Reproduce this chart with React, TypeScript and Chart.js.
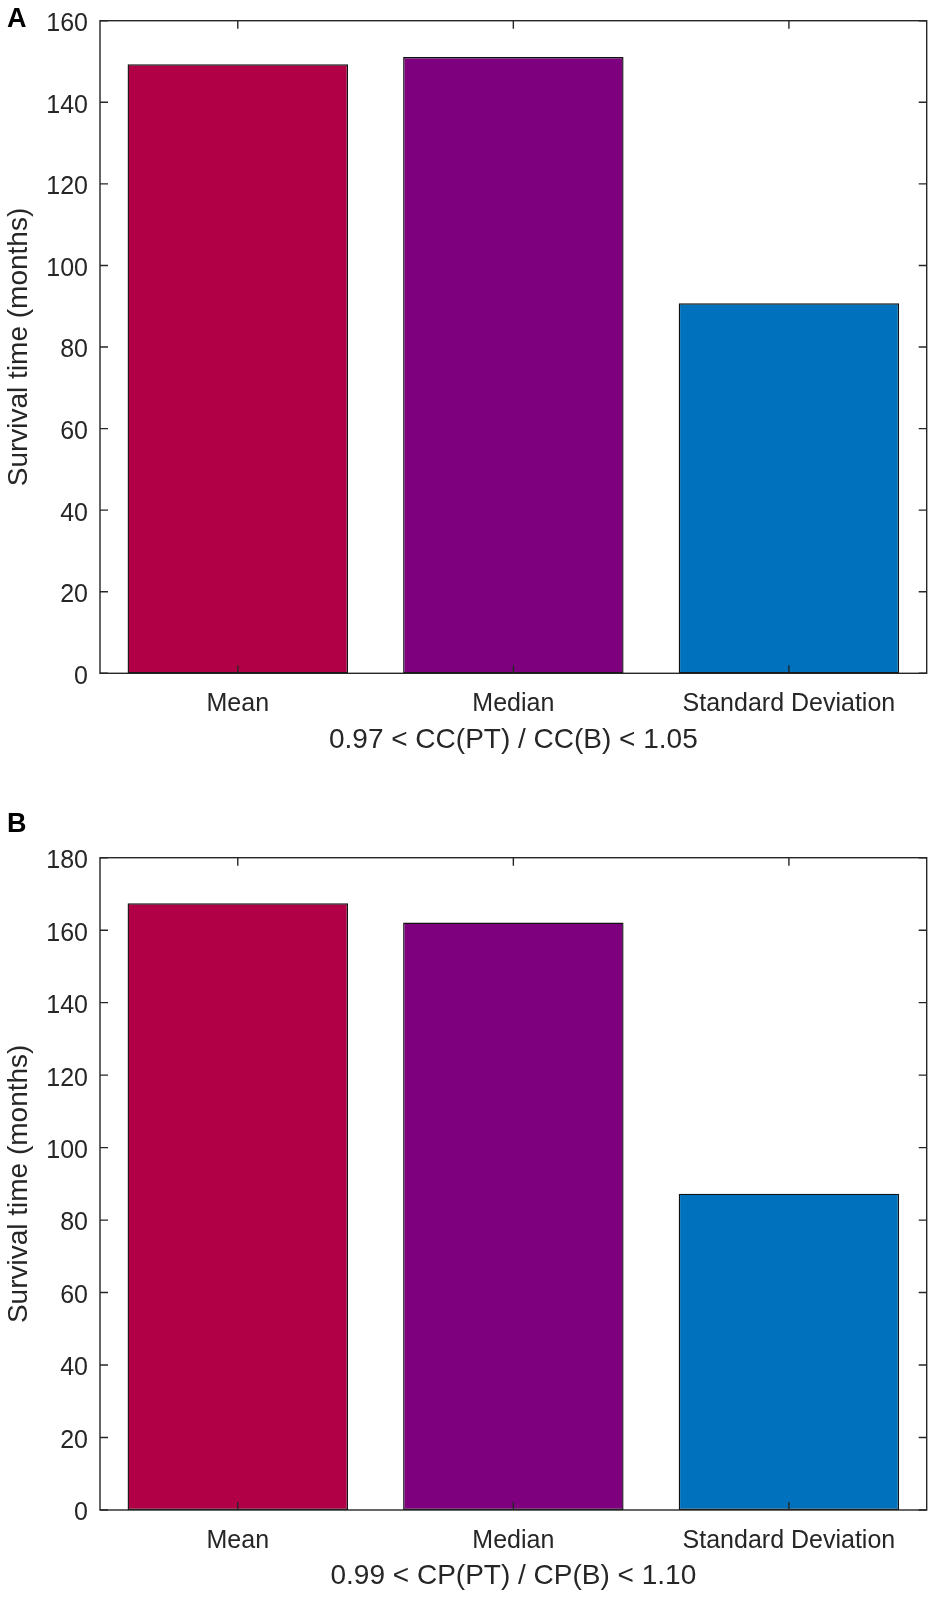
import { useEffect, useRef } from 'react';
import Chart from 'chart.js/auto';

// values (months)
const categories = ['Mean', 'Median', 'Standard Deviation'];
const survivalCC = [149.3, 151.1, 90.7];
const survivalCP = [167.4, 162.1, 87.3];
const barColors = ['#B20046', '#7E007E', '#0072BD'];
const yTitle = 'Survival time (months)';
const ccTitle = '0.97 < CC(PT) / CC(B) < 1.05';
const cpTitle = '0.99 < CP(PT) / CP(B) < 1.10';

const FONT = '"Liberation Sans", Arial, sans-serif';
const AXIS = '#262626';

// MATLAB-like box with inward ticks on all four sides
const boxPlugin = {
  id: 'matlabBox',
  afterDraw(chart: any) {
    const { ctx, chartArea: a, scales } = chart;
    const tl = 8;
    ctx.save();
    ctx.strokeStyle = AXIS;
    ctx.lineWidth = 1.4;
    ctx.strokeRect(a.left, a.top, a.right - a.left, a.bottom - a.top);
    ctx.beginPath();
    scales.y.ticks.forEach((t: any) => {
      const y = scales.y.getPixelForValue(t.value);
      ctx.moveTo(a.left, y);
      ctx.lineTo(a.left + tl, y);
      ctx.moveTo(a.right, y);
      ctx.lineTo(a.right - tl, y);
    });
    scales.x.ticks.forEach((_t: any, i: number) => {
      const x = scales.x.getPixelForTick(i);
      ctx.moveTo(x, a.bottom);
      ctx.lineTo(x, a.bottom - tl);
      ctx.moveTo(x, a.top);
      ctx.lineTo(x, a.top + tl);
    });
    ctx.stroke();
    ctx.restore();
  },
};

interface PanelProps {
  letter: string;
  values: number[];
  yMax: number;
  xTitle: string;
  top: number;
  height: number;
  padTop: number;
  padBottom: number;
  letterTop: number;
}

function Panel({ letter, values, yMax, xTitle, top, height, padTop, padBottom, letterTop }: PanelProps) {
  const canvasRef = useRef<HTMLCanvasElement>(null);

  useEffect(() => {
    if (!canvasRef.current) return;
    const chart = new Chart(canvasRef.current, {
      type: 'bar',
      data: {
        labels: categories,
        datasets: [{
          data: values,
          backgroundColor: barColors,
          borderColor: '#111111',
          borderWidth: 1.4,
          borderSkipped: false,
          barPercentage: 0.8,
          categoryPercentage: 1,
        }],
      },
      options: {
        animation: false,
        responsive: true,
        maintainAspectRatio: false,
        layout: { padding: { top: padTop, right: 18.3, bottom: padBottom, left: 0 } },
        plugins: { legend: { display: false }, tooltip: { enabled: false } },
        scales: {
          x: {
            offset: true,
            grid: { display: false, drawTicks: false },
            border: { display: false },
            ticks: {
              color: AXIS,
              font: { family: FONT, size: 25 },
              padding: 16,
              maxRotation: 0,
              autoSkip: false,
            },
            title: {
              display: true,
              text: xTitle,
              color: AXIS,
              font: { family: FONT, size: 28 },
              padding: 0,
            },
            afterFit: (s: any) => { s.height = 83.5; },
          },
          y: {
            min: 0,
            max: yMax,
            grid: { display: false, drawTicks: false },
            border: { display: false },
            ticks: {
              stepSize: 20,
              color: AXIS,
              // small lineHeight keeps the scale from pushing the plot top down
              font: { family: FONT, size: 25, lineHeight: 0.6 },
              padding: 12,
              labelOffset: 3.5,
            },
            title: {
              display: true,
              text: yTitle,
              color: AXIS,
              font: { family: FONT, size: 28 },
              padding: { top: 2, bottom: 0 },
            },
            afterFit: (s: any) => { s.width = 100; },
          },
        },
      },
      plugins: [boxPlugin],
    });
    return () => chart.destroy();
  }, [values, yMax, xTitle, padTop, padBottom]);

  return (
    <div style={{ position: 'absolute', left: 0, top, width: 945, height }}>
      <canvas ref={canvasRef}></canvas>
      <div style={{ position: 'absolute', left: 7, top: letterTop, fontFamily: FONT, fontWeight: 'bold', fontSize: 27, lineHeight: 1, color: '#000' }}>
        {letter}
      </div>
    </div>
  );
}

export default function App() {
  return (
    <div style={{ position: 'absolute', left: 0, top: 0, width: 945, height: 1600, background: '#fff' }}>
      <Panel letter="A" values={survivalCC} yMax={160} xTitle={ccTitle} top={0} height={790} padTop={20.7} padBottom={33.2} letterTop={4.7} />
      <Panel letter="B" values={survivalCP} yMax={180} xTitle={cpTitle} top={820} height={780} padTop={37.7} padBottom={6.5} letterTop={-10} />
    </div>
  );
}
